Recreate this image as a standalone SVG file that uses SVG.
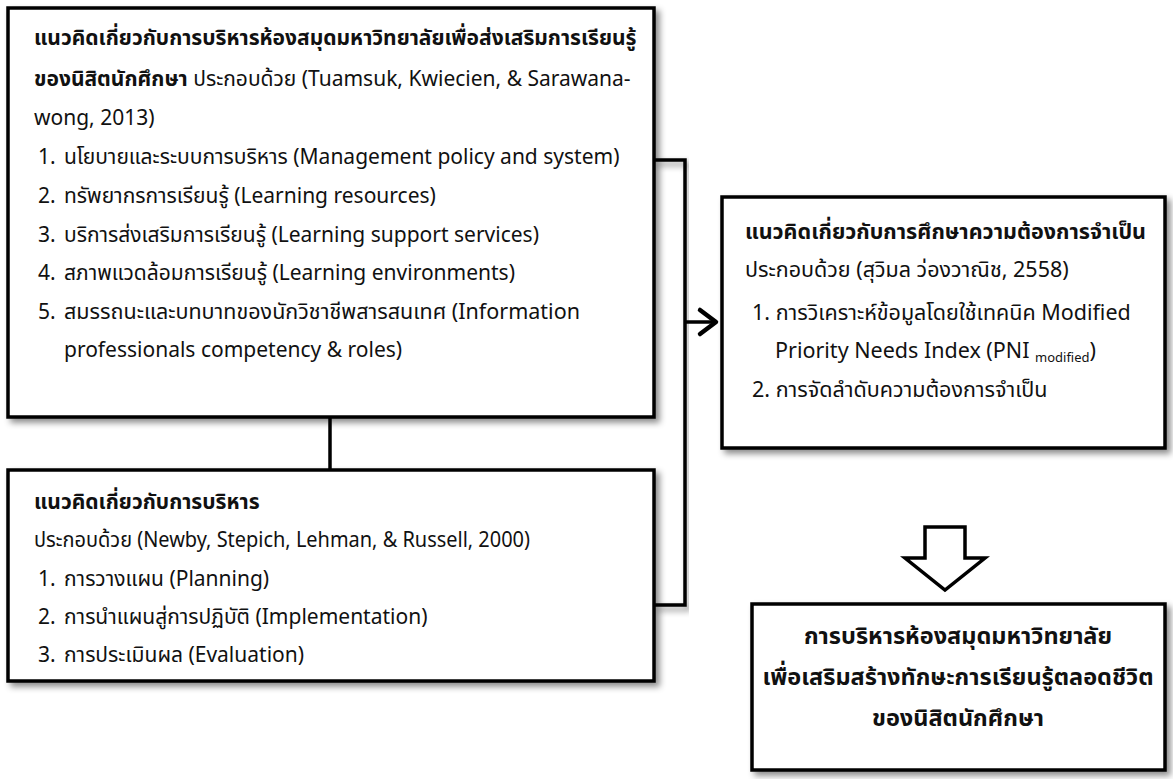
<svg xmlns="http://www.w3.org/2000/svg" width="1173" height="779" viewBox="0 0 1173 779">
<defs>
<filter id="sh" x="-5%" y="-5%" width="115%" height="120%">
<feDropShadow dx="4" dy="4" stdDeviation="3" flood-color="#000" flood-opacity="0.45"/>
</filter>
<style>
.box{fill:#fff;stroke:#000;stroke-width:3.5;filter:url(#sh)}
.ln{fill:none;stroke:#000;stroke-width:3.5}
text{font-family:"Noto Sans Thai","Noto Sans","Liberation Sans",sans-serif;font-size:21px;fill:#111}
.b{font-weight:bold}
.r{font-size:21.5px}
.c{text-anchor:middle;font-size:23.5px;font-weight:bold}
.sub{font-size:13px}
</style>
</defs>
<g id="connectors">
<line class="ln" x1="330" y1="417" x2="330" y2="470"/>
<polyline class="ln" points="654,160 685,160 685,605 654,605" filter="url(#sh)"/>
<line class="ln" x1="685" y1="322" x2="716" y2="322"/>
<path d="M700,310 L716,322 L700,334" fill="none" stroke="#000" stroke-width="4.5" stroke-linecap="round" stroke-linejoin="round"/>
<path d="M925,527 L965,527 L965,558 L985,558 L945,590 L905,558 L925,558 Z" fill="#fff" stroke="#000" stroke-width="3.5"/>
</g>
<g id="node1">
<rect class="box" x="8" y="8" width="646" height="409"/>
<text x="34" y="45" class="b">แนวคิดเกี่ยวกับการบริหารห้องสมุดมหาวิทยาลัยเพื่อส่งเสริมการเรียนรู้</text>
<text x="34" y="86"><tspan class="b">ของนิสิตนักศึกษา</tspan> ประกอบด้วย (Tuamsuk, Kwiecien, &amp; Sarawana-</text>
<text x="34" y="125">wong, 2013)</text>
<text x="38" y="164">1.</text><text x="64" y="164">นโยบายและระบบการบริหาร (Management policy and system)</text>
<text x="38" y="203">2.</text><text x="64" y="203">ทรัพยากรการเรียนรู้ (Learning resources)</text>
<text x="38" y="242">3.</text><text x="64" y="242">บริการส่งเสริมการเรียนรู้ (Learning support services)</text>
<text x="38" y="280">4.</text><text x="64" y="280">สภาพแวดล้อมการเรียนรู้ (Learning environments)</text>
<text x="38" y="319">5.</text><text x="64" y="319" textLength="516" lengthAdjust="spacingAndGlyphs">สมรรถนะและบทบาทของนักวิชาชีพสารสนเทศ (Information</text>
<text x="64" y="357">professionals competency &amp; roles)</text>
</g>
<g id="node2">
<rect class="box" x="8" y="470" width="646" height="211"/>
<text x="34" y="509" class="b">แนวคิดเกี่ยวกับการบริหาร</text>
<text x="34" y="547" textLength="496" lengthAdjust="spacingAndGlyphs">ประกอบด้วย (Newby, Stepich, Lehman, &amp; Russell, 2000)</text>
<text x="38" y="586">1.</text><text x="64" y="586">การวางแผน (Planning)</text>
<text x="38" y="624">2.</text><text x="64" y="624">การนำแผนสู่การปฏิบัติ (Implementation)</text>
<text x="38" y="662">3.</text><text x="64" y="662">การประเมินผล (Evaluation)</text>
</g>
<g id="node3">
<rect class="box" x="722" y="197" width="443" height="251"/>
<text x="745" y="239" class="b r">แนวคิดเกี่ยวกับการศึกษาความต้องการจำเป็น</text>
<text x="745" y="277" class="r">ประกอบด้วย (สุวิมล ว่องวาณิช, 2558)</text>
<text x="752" y="320" class="r">1. การวิเคราะห์ข้อมูลโดยใช้เทคนิค Modified</text>
<text x="775" y="358" class="r">Priority Needs Index (PNI <tspan class="sub" dy="4">modified</tspan><tspan dy="-4">)</tspan></text>
<text x="752" y="397" class="r">2. การจัดลำดับความต้องการจำเป็น</text>
</g>
<g id="node4">
<rect class="box" x="752" y="604" width="413" height="166"/>
<text x="958" y="644" class="c">การบริหารห้องสมุดมหาวิทยาลัย</text>
<text x="958" y="685" class="c">เพื่อเสริมสร้างทักษะการเรียนรู้ตลอดชีวิต</text>
<text x="958" y="726" class="c">ของนิสิตนักศึกษา</text>
</g>
</svg>
